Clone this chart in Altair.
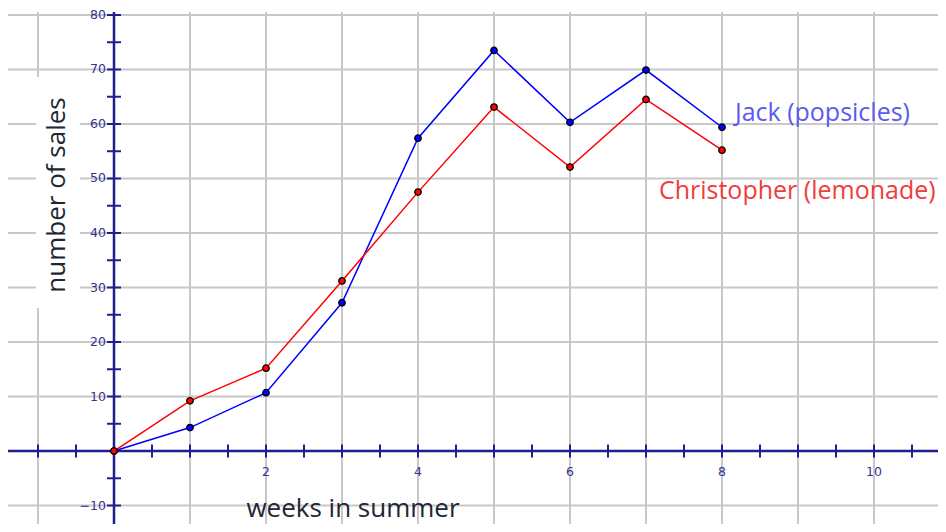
import altair as alt
import pandas as pd

# ---- data ----
weeks = [0, 1, 2, 3, 4, 5, 6, 7, 8]
jack = [0, 4.3, 10.7, 27.2, 57.4, 73.5, 60.3, 69.9, 59.4]
christopher = [0, 9.2, 15.2, 31.2, 47.5, 63.1, 52.1, 64.5, 55.2]

series_names = ["Jack (popsicles)", "Christopher (lemonade)"]
series_colors = ["#0000ff", "#ff0000"]
label_colors = ["#5a5af0", "#f03c3c"]
label_x = [8.17, 7.17]
label_y = [62.0, 47.7]

x_grid = list(range(-1, 11))
y_grid = [-10, 0, 10, 20, 30, 40, 50, 60, 70, 80]
x_ticks = [v / 2 for v in range(-2, 22)]
y_ticks = [v for v in range(-10, 85, 5) if v != 0]
x_tick_labels = [2, 4, 6, 8, 10]
y_tick_labels = [-10, 10, 20, 30, 40, 50, 60, 70, 80]

x_title = "weeks in summer"
y_title = "number of sales"

# ---- layout ----
W, H = 930, 516
xs = alt.Scale(domain=[-1.3947, 10.842], nice=False, zero=False)
ys = alt.Scale(domain=[-13.39, 81.28], nice=False, zero=False)
GRID = "#c8c8c8"
AXIS = "#1f1f8f"
TICKLAB = "#3b2f8f"
FONT = "Open Sans"

rows = []
for name, vals in zip(series_names, [jack, christopher]):
    for w, v in zip(weeks, vals):
        rows.append({"week": w, "sales": v, "series": name})
df = pd.DataFrame(rows)

color = alt.Color("series:N", scale=alt.Scale(domain=series_names, range=series_colors), legend=None)

vgrid = alt.Chart(pd.DataFrame({"x": x_grid})).mark_rule(color=GRID, strokeWidth=2).encode(
    x=alt.X("x:Q", scale=xs, axis=None), y=alt.value(4), y2=alt.value(H))
hgrid = alt.Chart(pd.DataFrame({"y": y_grid})).mark_rule(color=GRID, strokeWidth=2).encode(
    y=alt.Y("y:Q", scale=ys, axis=None), x=alt.value(0), x2=alt.value(W))

title_box = alt.Chart(pd.DataFrame({"t": [y_title]})).mark_rect(fill="white").encode(
    x=alt.value(28), x2=alt.value(72), y=alt.value(69), y2=alt.value(300))

zero = pd.DataFrame({"v": [0]})
xaxis = alt.Chart(zero).mark_rule(color=AXIS, strokeWidth=2.5).encode(
    y=alt.Y("v:Q", scale=ys, axis=None), x=alt.value(0), x2=alt.value(W))
yaxis = alt.Chart(zero).mark_rule(color=AXIS, strokeWidth=2.5).encode(
    x=alt.X("v:Q", scale=xs, axis=None), y=alt.value(4), y2=alt.value(H))

xt = alt.Chart(pd.DataFrame({"x": x_ticks, "y": [0] * len(x_ticks)})).mark_tick(
    orient="vertical", size=13, thickness=2, color=AXIS, opacity=1).encode(
    x=alt.X("x:Q", scale=xs, axis=None), y=alt.Y("y:Q", scale=ys, axis=None))
yt = alt.Chart(pd.DataFrame({"y": y_ticks, "x": [0] * len(y_ticks)})).mark_tick(
    orient="horizontal", size=14, thickness=2, color=AXIS, opacity=1).encode(
    x=alt.X("x:Q", scale=xs, axis=None), y=alt.Y("y:Q", scale=ys, axis=None))

xl = alt.Chart(pd.DataFrame({"x": x_tick_labels, "y": [0] * len(x_tick_labels)})).mark_text(
    dy=21, fontSize=12.5, font="DejaVu Sans", color=TICKLAB, align="center", baseline="middle").encode(
    x=alt.X("x:Q", scale=xs, axis=None), y=alt.Y("y:Q", scale=ys, axis=None), text="x:Q")
yl = alt.Chart(pd.DataFrame({"y": y_tick_labels, "x": [0] * len(y_tick_labels)})).mark_text(
    dx=-8, fontSize=12.5, font="DejaVu Sans", color=TICKLAB, align="right", baseline="middle").encode(
    x=alt.X("x:Q", scale=xs, axis=None), y=alt.Y("y:Q", scale=ys, axis=None), text="y:Q")

lines = alt.Chart(df).mark_line(strokeWidth=1.5).encode(
    x=alt.X("week:Q", scale=xs, axis=None), y=alt.Y("sales:Q", scale=ys, axis=None),
    color=color, detail="series:N")
pts = alt.Chart(df).mark_circle(size=42, stroke="black", strokeWidth=1.3, opacity=1).encode(
    x=alt.X("week:Q", scale=xs, axis=None), y=alt.Y("sales:Q", scale=ys, axis=None), color=color)

lab_df = pd.DataFrame({"name": series_names, "x": label_x, "y": label_y, "c": label_colors})
labels = alt.Chart(lab_df).mark_text(fontSize=25, font=FONT, align="left", baseline="middle").encode(
    x=alt.X("x:Q", scale=xs, axis=None), y=alt.Y("y:Q", scale=ys, axis=None), text="name:N",
    color=alt.Color("c:N", scale=None, legend=None))

ytitle = alt.Chart(pd.DataFrame({"t": [y_title]})).mark_text(
    fontSize=26, font=FONT, color="#222633", angle=270, align="center", baseline="alphabetic").encode(
    x=alt.value(57), y=alt.value(187), text="t:N")
xtitle = alt.Chart(pd.DataFrame({"t": [x_title]})).mark_text(
    fontSize=26, font=FONT, color="#222633", align="center", baseline="alphabetic").encode(
    x=alt.value(345), y=alt.value(509), text="t:N")

chart = alt.layer(vgrid, hgrid, title_box, xaxis, yaxis, xt, yt, xl, yl, lines, pts, labels, ytitle, xtitle).properties(
    width=W, height=H, padding=0, autosize=alt.AutoSizeParams(type="none"), background="white"
).configure_view(stroke=None)

chart.save("out.html", embed_options={"renderer": "svg", "actions": False})
